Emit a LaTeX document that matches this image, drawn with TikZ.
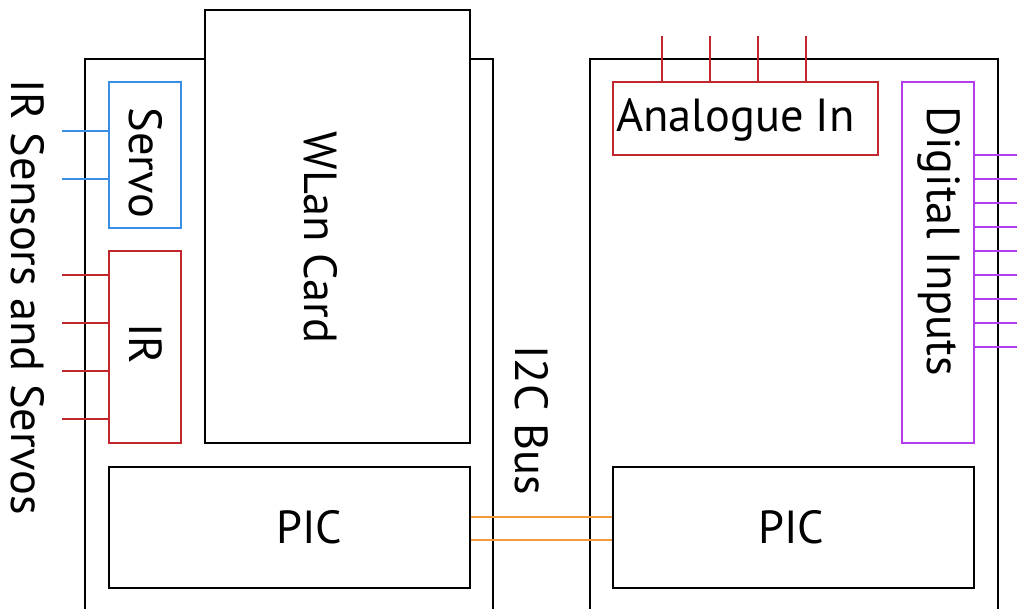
\documentclass[tikz,border=0pt]{standalone}
\usepackage{fontspec}
\setmainfont{PT Sans}
\definecolor{cservo}{HTML}{3A8EE6}
\definecolor{cir}{HTML}{C1272D}
\definecolor{cdigital}{HTML}{B43CF0}
\definecolor{cbus}{HTML}{F39A3C}

\begin{document}
\begin{tikzpicture}[x=0.5pt, y=-0.5pt, every node/.style={
      inner sep=0pt, font=\fontsize{23.2}{27}\selectfont, text centered},
    blk/.style={draw, line width=1.3pt},
    vtxt/.style={rotate=-90},
    pinline/.style={line width=1.1pt}]
  \useasboundingbox (0,0) rectangle (1017,609);
  \clip (0,0) rectangle (1017,609);
  % the two boards (open at the bottom)
  \node[blk, minimum width=204pt, minimum height=290.5pt] (lboard) at (289,349.5) {};
  \node[blk, minimum width=204pt, minimum height=290.5pt] (rboard) at (794,349.5) {};
  % left board
  \node[blk, fill=white, minimum width=132.5pt, minimum height=216.5pt] (wlan) at (337.5,226.5) {};
  \node[blk, draw=cservo, minimum width=36pt, minimum height=73pt] (servo) at (145,155) {};
  \node[blk, draw=cir, minimum width=36pt, minimum height=96pt] (ir) at (145,347) {};
  \node[blk, minimum width=180.5pt, minimum height=60.5pt] (picl) at (289.5,527.5) {};
  % right board
  \node[blk, draw=cir, minimum width=132.5pt, minimum height=36.5pt] (analog) at (745.5,118.5) {};
  \node[blk, draw=cdigital, minimum width=36pt, minimum height=180.5pt] (digital) at (938,262.5) {};
  \node[blk, minimum width=180.5pt, minimum height=60.5pt] (picr) at (793.5,527.5) {};
  % texts
  \node[vtxt] (wlantxt) at ([shift={(-17,11)}]wlan.center) {WLan Card};
  \node[vtxt] (servotxt) at ([shift={(1,8)}]servo.center) {Servo};
  \node[vtxt] (irtxt) at ([shift={(1,-3)}]ir.center) {IR};
  \node (picltxt) at ([shift={(20,0)}]picl.center) {PIC};
  \node (analogtxt) at ([shift={(-10,1)}]analog.center) {Analogue In};
  \node[vtxt] (digitaltxt) at ([shift={(1,-21)}]digital.center) {Digital Inputs};
  \node (picrtxt) at ([shift={(-2,0)}]picr.center) {PIC};
  \node[vtxt] (extlbl) at (28,297) {IR Sensors and Servos};
  \node[vtxt] (buslbl) at (532,420) {I2C Bus};
  % pins
  \foreach \yy [count=\i] in {131,179} {
    \coordinate (sp\i) at (62,\yy);
    \draw[pinline, cservo] (sp\i) -- (sp\i -| servo.west);
  }
  \foreach \yy [count=\i] in {275,323,371,419} {
    \coordinate (ip\i) at (62,\yy);
    \draw[pinline, cir] (ip\i) -- (ip\i -| ir.west);
  }
  \foreach \xx [count=\i] in {662,710,758,806} {
    \coordinate (ap\i) at (\xx,36);
    \draw[pinline, cir] (ap\i) -- (ap\i |- analog.north);
  }
  \foreach \yy [count=\i] in {155,179,...,347} {
    \coordinate (dp\i) at (1020,\yy);
    \draw[pinline, cdigital] (digital.east |- dp\i) -- (dp\i);
  }
  % I2C bus
  \draw[pinline, cbus] ([yshift=5.25pt]picl.east) -- ([yshift=5.25pt]picr.west);
  \draw[pinline, cbus] ([yshift=-6.25pt]picl.east) -- ([yshift=-6.25pt]picr.west);
\end{tikzpicture}
\end{document}
